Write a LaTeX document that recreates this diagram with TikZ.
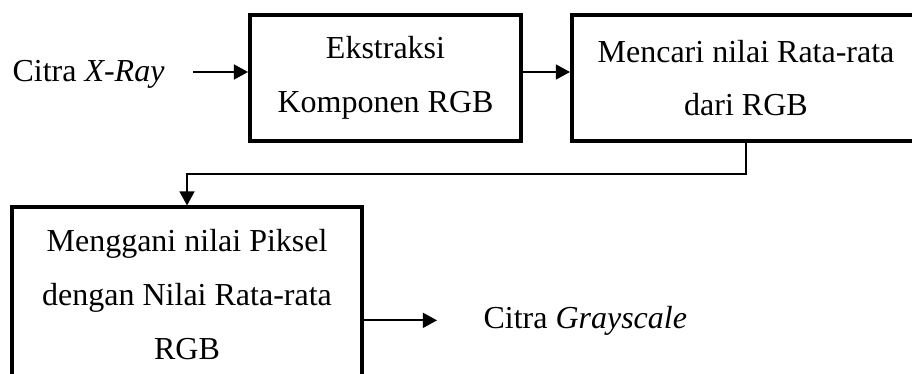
\documentclass[tikz,border=0pt]{standalone}
\usepackage{fontspec}
\setmainfont{Liberation Serif}
\usetikzlibrary{arrows.meta}

\tikzset{
  procbox/.style={draw, line width=1.5pt, align=center, inner sep=0pt,
    font=\fontsize{12}{20.2}\selectfont},
  lbl/.style={inner sep=0pt, font=\fontsize{12}{14}\selectfont},
  flow/.style={-{Triangle[length=5.3pt, width=5.6pt]}, line width=0.7pt},
}

\begin{document}
\begin{tikzpicture}
\useasboundingbox (0,0) rectangle (12.02,-4.929);
\clip (0,0) rectangle (12.02,-4.929);

% === Process boxes ===
\node[procbox, minimum width=101.6pt, minimum height=47pt] (eks) at (5.081,-1.028)
  {Ekstraksi\\Komponen RGB};
\node[procbox, minimum width=130.5pt, minimum height=47pt] (mean) at (9.832,-1.028)
  {Mencari nilai Rata-rata\\dari RGB};
\node[procbox, minimum width=131pt, minimum height=65.4pt] (rep) at (2.465,-3.884)
  {Menggani nilai Piksel\\dengan Nilai Rata-rata\\RGB};

% === Input / output labels ===
\node[lbl, anchor=base east] (xray) at (2.175,-1.074) {Citra \textit{X-Ray}};
\node[lbl, anchor=base west] (gray) at (6.366,-4.323) {Citra \textit{Grayscale}};

% === Connectors ===
\draw[flow] ([yshift=2.25pt]eks.west -| xray.east) ++(10.5pt,0) -- ([yshift=2.25pt]eks.west);
\draw[flow] ([yshift=2.25pt]eks.east) -- ([yshift=2.25pt]mean.west);
\draw[flow] (mean.south) -- ++(0,-0.415) -| (rep.north);
\draw[flow, shorten >=17.25pt] (rep.east |- gray.west) -- (gray.west);

\end{tikzpicture}
\end{document}
